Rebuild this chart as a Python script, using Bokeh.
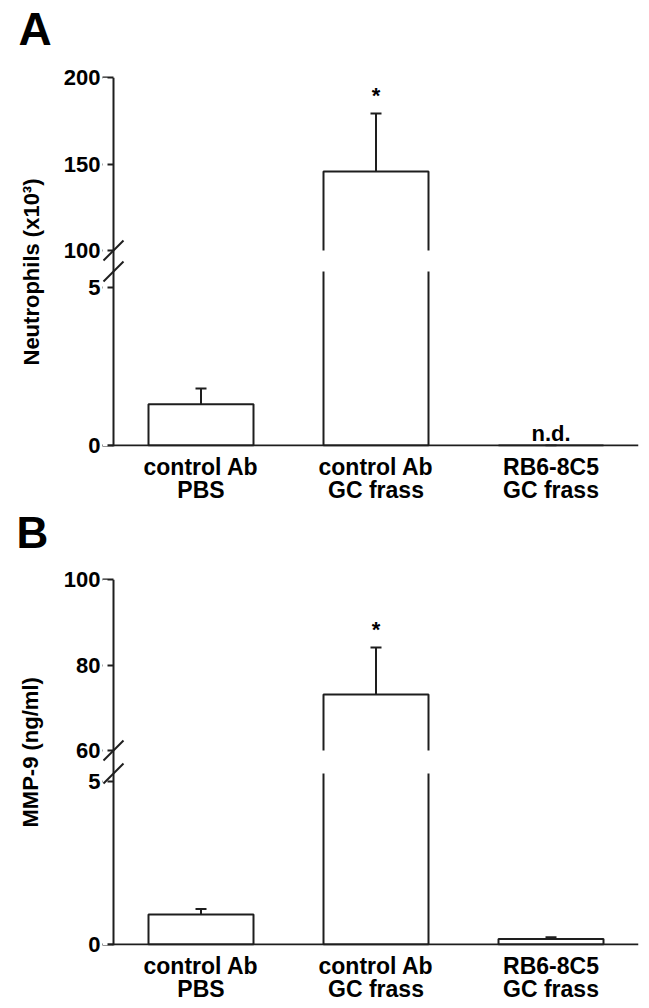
from bokeh.plotting import figure
from bokeh.models import (ColumnDataSource, Range1d, FixedTicker, Whisker, TeeHead,
                          BoxAnnotation, Arrow, Span, Title)
from bokeh.layouts import column
from bokeh.embed import file_html
from bokeh.resources import INLINE
from bokeh.core.properties import value

# ---------------- data ----------------
categories = ["control Ab\nPBS", "control Ab\nGC frass", "RB6-8C5\nGC frass"]

neut_mean = [1.3, 145.7, 0.0]
neut_err = [0.5, 33.5, 0.0]
neut_marks = ["", "*", "n.d."]
neut_low_ticks = [0, 5]
neut_up_ticks = [100, 150, 200]
neut_low_max = 5.5

mmp_mean = [0.92, 73.1, 0.17]
mmp_err = [0.17, 11.0, 0.05]
mmp_marks = ["", "*", ""]
mmp_low_ticks = [0, 5]
mmp_up_ticks = [60, 80, 100]
mmp_low_max = 5.25

# ---------------- style / layout ----------------
FONT = "Liberation Sans"
INK = "#1e1e1e"
FIG_W = 645
LEFT = 102        # left border (px)
UNIT_PX = 175     # px per category slot
SPINE_PAD = 11    # px between frame edge and y-axis spine
TICK_LEN = 6
BOT_PAD = 1
MARK_OFFSET = {"*": -18, "n.d.": -12}


def letter_fig(letter, offset, h, size):
    p = figure(width=FIG_W, height=h, x_range=Range1d(0, 1), y_range=Range1d(0, 1),
               x_axis_type=None, y_axis_type=None, min_border=0,
               output_backend="svg", toolbar_location=None)
    p.outline_line_color = None
    p.title.text = letter
    p.title.align = "left"
    p.title.offset = offset
    p.title.vertical_align = "bottom"
    p.title.standoff = 0
    p.title.text_font = FONT
    p.title.text_font_style = "bold"
    p.title.text_font_size = size
    p.title.text_color = "black"
    return p


def panel(ytitle, means, errs, marks, low_ticks, up_ticks, low_max,
          top_border, bottom_border, low_px, gap_px, up_px, title_offset, title_standoff):
    n = len(categories)
    xs = [i + 0.5 for i in range(n)]
    frame_h = up_px + gap_px + low_px + BOT_PAD
    frame_w = SPINE_PAD + n * UNIT_PX
    up_min, up_max = up_ticks[0], up_ticks[-1]
    ppu_low = low_px / low_max
    ppu_up = up_px / (up_max - up_min)
    up_zero = up_min - (gap_px + low_px) / ppu_up      # upper scale value at y = 0

    p = figure(x_range=Range1d(-SPINE_PAD / UNIT_PX, n),
               y_range=Range1d(-BOT_PAD / ppu_low, low_max + (gap_px + up_px) / ppu_low),
               frame_width=frame_w, frame_height=frame_h,
               min_border_left=LEFT, min_border_right=FIG_W - LEFT - frame_w,
               min_border_top=top_border, min_border_bottom=bottom_border,
               output_backend="svg", toolbar_location=None)
    p.extra_y_ranges = {"up": Range1d(up_zero - BOT_PAD / ppu_up, up_max)}
    p.xgrid.visible = False
    p.ygrid.visible = False
    p.outline_line_color = None

    idx_low = [i for i in range(n) if means[i] <= up_min]
    idx_up = [i for i in range(n) if means[i] > up_min]

    def sub(idx):
        return ColumnDataSource(dict(
            x=[xs[i] for i in idx],
            mean=[means[i] for i in idx],
            upper=[means[i] + errs[i] for i in idx],
        ))

    bar_kw = dict(x="x", top="mean", width=0.6, fill_color="white",
                  line_color=INK, line_width=2)
    for idx, rn, bottom in ((idx_low, "default", 0), (idx_up, "up", up_zero)):
        s = sub(idx)
        p.vbar(bottom=bottom, source=s, y_range_name=rn, **bar_kw)
        p.add_layout(Whisker(base="x", lower="mean", upper="upper", source=s,
                             upper_head=TeeHead(size=11, line_color=INK, line_width=2),
                             lower_head=None, line_color=INK, line_width=2,
                             y_range_name=rn, level="glyph"))
        for mk, off in MARK_OFFSET.items():
            sel = [i for i in idx if marks[i] == mk]
            if not sel:
                continue
            ms = ColumnDataSource(dict(x=[xs[i] for i in sel],
                                       y=[means[i] + errs[i] for i in sel],
                                       t=[marks[i] for i in sel]))
            p.text(x="x", y="y", text="t", source=ms, y_range_name=rn, y_offset=off,
                   text_align="center", text_baseline="alphabetic",
                   text_font=value(FONT), text_font_style="bold",
                   text_font_size="22px", text_color="black")

    # axis spines
    p.add_layout(Span(location=0, dimension="height", line_color=INK, line_width=2))
    p.add_layout(Span(location=0, dimension="width", line_color=INK, line_width=2))
    # white band hiding the bars inside the axis break
    p.add_layout(BoxAnnotation(left=0.1, bottom=low_max, top=low_max + gap_px / ppu_low,
                               fill_color="white", fill_alpha=1.0, line_alpha=0))
    # white mask left of the spine so ticks are TICK_LEN long
    p.add_layout(BoxAnnotation(right=-TICK_LEN / UNIT_PX, fill_color="white",
                               fill_alpha=1.0, line_alpha=0))
    # break slashes
    for yb in (BOT_PAD + low_px, BOT_PAD + low_px + gap_px):
        p.add_layout(Arrow(start=None, end=None,
                           x_start=SPINE_PAD - 10, y_start=yb - 10,
                           x_end=SPINE_PAD + 10, y_end=yb + 10,
                           start_units="screen", end_units="screen",
                           line_color=INK, line_width=2))

    # y axis: ticks of both segments, placed on the main scale
    up_pos = [(u - up_zero) * ppu_up / ppu_low for u in up_ticks]
    tick_pos = list(low_ticks) + up_pos
    tick_txt = [str(t) for t in low_ticks] + [str(u) for u in up_ticks]
    yax = p.yaxis[0]
    yax.ticker = FixedTicker(ticks=tick_pos)
    yax.major_label_overrides = {t: s for t, s in zip(tick_pos, tick_txt)}
    yax.axis_line_color = None
    yax.major_tick_in = SPINE_PAD
    yax.major_tick_out = 0
    yax.major_tick_line_width = 2
    yax.major_tick_line_color = INK
    yax.minor_tick_in = 0
    yax.minor_tick_out = 0
    yax.major_label_standoff = 2
    yax.major_label_text_font_size = "22px"

    xax = p.xaxis[0]
    xax.ticker = FixedTicker(ticks=xs)
    xax.major_label_overrides = {x: c for x, c in zip(xs, categories)}
    xax.axis_line_color = None
    xax.major_tick_in = 0
    xax.major_tick_out = 0
    xax.minor_tick_in = 0
    xax.minor_tick_out = 0
    xax.major_label_standoff = 7
    xax.major_label_text_font_size = "23px"
    xax.major_label_text_line_height = 0.9

    for ax in (xax, yax):
        ax.major_label_text_font = FONT
        ax.major_label_text_font_style = "bold"
        ax.major_label_text_color = "black"

    p.add_layout(Title(text=ytitle, align="left", offset=title_offset,
                       vertical_align="top", standoff=title_standoff, text_font=FONT,
                       text_font_style="bold", text_font_size="22px",
                       text_color="black"), "left")
    return p


letA = letter_fig("A", -84, 56, "46px")
pA = panel("Neutrophils (x10\u00b3)", neut_mean, neut_err, neut_marks,
           neut_low_ticks, neut_up_ticks, neut_low_max,
           top_border=21, bottom_border=58, low_px=174, gap_px=21, up_px=173,
           title_offset=81, title_standoff=30)
letB = letter_fig("B", -86, 56, "44px")
pB = panel("MMP-9 (ng/ml)", mmp_mean, mmp_err, mmp_marks,
           mmp_low_ticks, mmp_up_ticks, mmp_low_max,
           top_border=18, bottom_border=56, low_px=171, gap_px=23, up_px=171,
           title_offset=118, title_standoff=32)

layout = column(letA, pA, letB, pB, spacing=0)
open("out.html", "w").write(file_html(layout, INLINE))
